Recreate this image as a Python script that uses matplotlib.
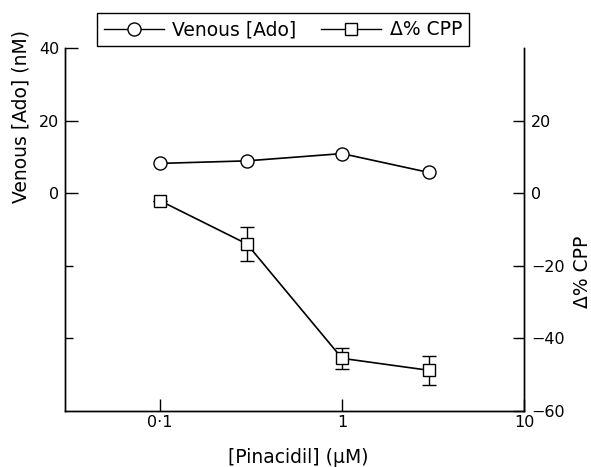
import numpy as np
import matplotlib
matplotlib.use("Agg")
import matplotlib.pyplot as plt
from matplotlib.lines import Line2D

plt.rcParams['font.family'] = ['DejaVu Sans']
plt.rcParams['xtick.direction'] = 'in'
plt.rcParams['ytick.direction'] = 'in'

# data
pinacidil = [0.1, 0.3, 1, 3]
venous_ado = [8.2, 8.9, 10.9, 5.7]
cpp_change = [-2.1, -14.0, -45.5, -48.8]
cpp_err = [0.0, 4.8, 2.9, 4.0]

x_ticks = [0.1, 1, 10]
x_ticklabels = ["0·1", "1", "10"]
left_ticks = [40, 20, 0]
left_minor = [-20, -40]
right_ticks = [20, 0, -20, -40, -60]

fig = plt.figure(figsize=(5.91, 4.67), dpi=100)
ax = fig.add_axes([0.110, 0.120, 0.7766, 0.7773])
ax2 = ax.twinx()

ax.set_xscale("log")
ax.set_xlim(0.03, 10)
ax.set_ylim(-60, 40)
ax2.set_ylim(-60, 40)

# venous adenosine
ax.plot(pinacidil, venous_ado, "-o", color="black", lw=1.2, ms=9.4,
        mfc="white", mec="black", mew=1.0, zorder=3)

# % change CPP with sem bars
ax2.errorbar(pinacidil, cpp_change, yerr=cpp_err, fmt="-s", color="black",
             lw=1.2, ms=8.8, mfc="white", mec="black", mew=1.0,
             elinewidth=1.0, capsize=5, capthick=1.0, zorder=3)

for a in (ax, ax2):
    a.spines["top"].set_visible(False)
    for s in a.spines.values():
        s.set_linewidth(1.0)

ax.set_xticks(x_ticks)
ax.set_xticklabels(x_ticklabels)
ax.xaxis.set_minor_locator(matplotlib.ticker.NullLocator())
ax.tick_params(axis="x", length=9, width=1.0, pad=3, labelsize=11.5)

ax.set_yticks(left_ticks)
ax.set_yticks(left_minor, minor=True)
ax.tick_params(axis="y", which="major", length=9, width=1.0, pad=4, labelsize=11.5)
ax.tick_params(axis="y", which="minor", length=6, width=1.0)

ax2.set_yticks(right_ticks)
ax2.yaxis.set_minor_locator(matplotlib.ticker.NullLocator())
ax2.tick_params(axis="y", length=8, width=1.0, pad=5, labelsize=11.5)

ax.set_xlabel("[Pinacidil] (μM)", fontsize=13.5)
ax.xaxis.set_label_coords(0.508, -0.103)
ax.set_ylabel("Venous [Ado] (nM)", fontsize=13.5)
ax.yaxis.set_label_coords(-0.076, 0.81)
ax2.set_ylabel("Δ% CPP", fontsize=13.5)
ax2.yaxis.set_label_coords(1.107, 0.383)

handles = [
    Line2D([], [], color="black", lw=1.0, marker="o", ms=9.4, mfc="white", mec="black"),
    Line2D([], [], color="black", lw=1.0, marker="s", ms=8.8, mfc="white", mec="black"),
]
leg = fig.legend(handles, ["Venous [Ado]", "Δ% CPP"], ncol=2, loc="upper left",
                 bbox_to_anchor=(0.164, 0.972), borderaxespad=0, fontsize=13.5,
                 fancybox=False, framealpha=1, edgecolor="black", numpoints=1,
                 handlelength=3.2, handletextpad=0.45, columnspacing=1.3,
                 borderpad=0.38)
leg.get_frame().set_linewidth(1.0)

fig.savefig("out.png", dpi=100)
